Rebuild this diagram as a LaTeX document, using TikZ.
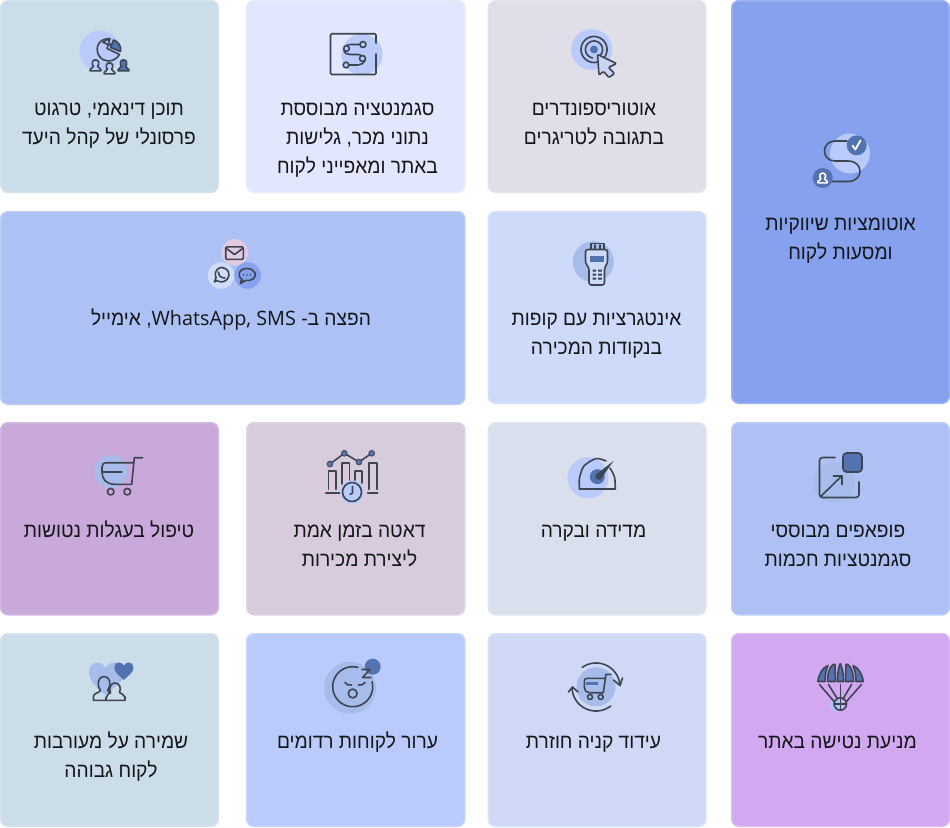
\documentclass[tikz,border=0pt]{standalone}
\usepackage{fontspec}
\setmainfont[Script=Hebrew,FakeStretch=0.935]{Liberation Sans}
\newfontfamily\latinface{Open Sans}
\TeXXeTstate=1
\definecolor{ink}{HTML}{3E4552}
\definecolor{deep}{HTML}{5272B0}
\definecolor{halo}{HTML}{BACBFB}
\definecolor{halob}{HTML}{A7BCEB}
\definecolor{pinkc}{HTML}{E0CBE3}
\definecolor{palec}{HTML}{CFDDF9}
\definecolor{ca}{HTML}{CCDDEA}\definecolor{cb}{HTML}{E2E7FD}\definecolor{cc}{HTML}{DFDEE9}
\definecolor{cd}{HTML}{86A1EE}\definecolor{ce}{HTML}{AEC1F5}\definecolor{cf}{HTML}{CDDAF9}
\definecolor{cg}{HTML}{C8A9DA}\definecolor{ch}{HTML}{D8CBDD}\definecolor{ci}{HTML}{D9DFEC}
\definecolor{cj}{HTML}{AFC1F4}\definecolor{ck}{HTML}{BACBFB}\definecolor{cl}{HTML}{CFD8F4}
\definecolor{cm}{HTML}{D2A9F0}
\tikzset{
  ln/.style={draw=ink,line width=1.6pt,line cap=round,line join=round},
  lab/.style={anchor=north,align=center,inner sep=0pt,text=black!70!ink,font=\fontsize{20.5}{29}\selectfont},
  cardbox/.style={rounded corners=7pt,line width=1.5pt}
}
\newcommand{\card}[5]{\path[cardbox,draw=#5!82!white,fill=#5] (#1+0.75,#2+0.75) rectangle (#3-0.75,#4-0.75);}
\newcommand{\rl}[1]{\beginR #1\endR}
\newcommand{\lab}[4]{\node[lab] (#1) at (#2,#3-20.3) {\strut #4};}
\newcommand{\person}[5]{\begin{scope}[shift={(#1,#2)},scale=#3]
  \draw[ln,fill=#4,draw=#5] (-6.5,6) -- (6.5,6) -- (6.5,4.2) .. controls (6.2,2.5) and (2.5,2) .. (2.5,0.5) .. controls (5,-2.5) and (4.5,-7.5) .. (0,-7.5) .. controls (-4.5,-7.5) and (-5,-2.5) .. (-2.5,0.5) .. controls (-2.5,2) and (-6.2,2.5) .. (-6.5,4.2) -- cycle;
\end{scope}}
\newcommand{\arcpx}[5]{plot[domain=#4:#5,samples=40,smooth] ({#1+#3*cos(\x)},{#2+#3*sin(\x)})}
\begin{document}
\begin{tikzpicture}[x=1pt,y=-1pt]
\useasboundingbox (0,0) rectangle (950,827);
\fill[white] (0,0) rectangle (950,827);
% cards
\card{0}{0}{219}{193}{ca}
\card{246}{0}{465.5}{193}{cb}
\card{487.5}{0}{706.5}{193}{cc}
\card{731}{0}{950}{404}{cd}
\card{0}{211}{465.5}{405}{ce}
\card{487.5}{211}{706.5}{404}{cf}
\card{0}{422}{219}{615.5}{cg}
\card{246}{422}{465.5}{615.5}{ch}
\card{487.5}{422}{706.5}{615.5}{ci}
\card{731}{422}{950}{615.5}{cj}
\card{0}{633}{219}{827}{ca}
\card{246}{633}{465.5}{827}{ck}
\card{487.5}{633}{706.5}{827}{cl}
\card{731}{633}{950}{827}{cm}
% labels
\lab{t1}{109}{115}{\rl{תוכן דינאמי, טרגוט}\\\rl{פרסונלי של קהל היעד}}
\lab{t2}{357.5}{115}{\rl{סגמנטציה מבוססת}\\\rl{נתוני מכר, גלישות}\\\rl{באתר ומאפייני לקוח}}
\lab{t3}{594}{115}{\rl{אוטוריספונדרים}\\\rl{בתגובה לטריגרים}}
\lab{t4}{840.5}{230}{\rl{אוטומציות שיווקיות}\\\rl{ומסעות לקוח}}
\lab{t5}{231}{325}{\rl{הפצה ב- \beginL{\latinface\fontsize{19.8}{29}\selectfont WhatsApp, SMS}\endL, אימייל}}
\lab{t6}{596.5}{325}{\rl{אינטגרציות עם קופות}\\\rl{בנקודות המכירה}}
\lab{t7}{109}{537}{\rl{טיפול בעגלות נטושות}}
\lab{t8}{359.5}{537}{\rl{דאטה בזמן אמת}\\\rl{ליצירת מכירות}}
\lab{t9}{593.5}{537}{\rl{מדידה ובקרה}}
\lab{t10}{838}{537}{\rl{פופאפים מבוססי}\\\rl{סגמנטציות חכמות}}
\lab{t11}{111}{748}{\rl{שמירה על מעורבות}\\\rl{לקוח גבוהה}}
\lab{t12}{357.5}{748}{\rl{ערור לקוחות רדומים}}
\lab{t13}{593.5}{748}{\rl{עידוד קניה חוזרת}}
\lab{t14}{837.5}{748}{\rl{מניעת נטישה באתר}}
% icon: pie + people
\fill[halo] (100,51) circle (20.5);
\draw[ln] (110,38.7) .. controls (106,38.3) and (100,40) .. (98,45) .. controls (95,53) and (101,61) .. (108,61) .. controls (113,61) and (117,58.5) .. (119.5,54.5) -- (107,48.5) -- cycle;
\draw[ln,fill=halo] (103,42.5) -- (108,38.7) -- (110,45) -- cycle;
\draw[ln,fill=deep] (113.5,40) .. controls (118,41) and (122,47) .. (120.5,51.5) -- (110.5,47.5) -- cycle;
\person{95.5}{66}{0.82}{none}{ink}
\person{109.5}{69}{0.82}{none}{ink}
\person{123.5}{66}{0.82}{deep}{ink}
% icon: segment box
\fill[halo] (362,54.5) circle (20.5);
\draw[ln,rounded corners=1.2pt] (376,43) -- (376,33.7) -- (330.5,33.7) -- (330.5,74.5) -- (376,74.5) -- (376,54);
\draw[ln] (360,44.5) -- (351,44.5) .. controls (348.5,44.5) and (347.5,45) .. (347,45.5);
\draw[ln] (344,50) .. controls (344.5,53.5) and (347,54.5) .. (350,54.5) -- (358,54.5) .. controls (359.5,54.5) and (360.5,55) .. (361,55.5);
\draw[ln] (365,60.5) .. controls (364,63) and (361,65) .. (358,65) -- (349,65);
\draw[ln] (363,44.5) circle (3);
\draw[ln] (346.5,48.5) circle (2.8);
\draw[ln] (362.5,58.5) circle (3);
\draw[ln] (346,65) circle (2.8);
% icon: target + cursor
\fill[halo] (591.7,49.5) circle (20.5);
\draw[ln] \arcpx{594}{49.5}{13}{-10}{205};
\draw[ln] \arcpx{594}{49.5}{13}{205}{350};
\draw[ln] \arcpx{594}{49.5}{8.5}{-20}{40};
\draw[ln] \arcpx{594}{49.5}{8.5}{100}{340};
\fill[deep] (594,49.5) circle (4);
\draw[ln,fill=halo!55!cc,rounded corners=1pt] (597.5,54.5) -- (616.5,63.5) -- (608.5,67.5) -- (614.5,73.5) -- (609,77.5) -- (603.5,71.5) -- (599,75) -- cycle;
% icon: automation path
\fill[halo] (850,153.5) circle (20);
\draw[ln] (847,141) -- (835,141) .. controls (821,141) and (821,161) .. (835,161) -- (848,161) .. controls (864,161) and (864,181.5) .. (848,181.5) -- (830,181.5);
\fill[deep] (856.7,145.3) circle (10);
\draw[white,line width=1.8pt,line cap=round,line join=round] (852.5,145.5) -- (855.3,149.5) -- (860.5,140.5);
\fill[deep] (822.7,178) circle (10);
\person{822.7}{178.5}{0.72}{none}{white}
% icon: channels
\fill[pinkc] (234.7,252.3) circle (13.3);
\fill[palec] (221,275.5) circle (13.3);
\fill[cd] (247.7,275.5) circle (13.3);
\draw[ln,rounded corners=1.2pt] (225.7,246.8) rectangle (243.3,259.4);
\draw[ln] (226.5,248.5) -- (234.5,254.5) -- (242.5,248.5);
\draw[ln] (214.5,282) -- (216,277.5) .. controls (213,270) and (220,267) .. (222,267.5) .. controls (228,268) and (231,274) .. (227.5,279) .. controls (224.5,282.5) and (220,282.5) .. (216.7,280.5) -- cycle;
\draw[ln] (218.5,272) .. controls (218.5,276) and (221,278) .. (225,278);
\draw[ln] (241,281) -- (242.5,280) .. controls (236,275) and (239,268.5) .. (247,268.5) .. controls (255,268.5) and (258,276) .. (253,279) .. controls (251,280.5) and (248,280.5) .. (245.5,280.5) -- (240.5,283.5) -- cycle;
\fill[ink] (243.5,275) circle (0.8) (247,275) circle (0.8) (250.5,275) circle (0.8);
% icon: POS
\fill[halob] (593.3,261.7) circle (20.5);
\draw[ln] (591,249) -- (591,243.5) -- (604,243.5) -- (604,249);
\draw[ln] (595,249) -- (595,245) (600,249) -- (600,245);
\draw[ln,fill=cf,rounded corners=2.5pt] (585.5,249.5) -- (607.5,249.5) -- (607.5,263.5) -- (604.5,267.5) -- (604.5,285) -- (589,285) -- (589,267.5) -- (585.5,263.5) -- cycle;
\fill[deep] (589.5,256) rectangle (604,262);
\foreach \yy in {269.5,273.5,277.5}{\fill[ink] (592.6,\yy) rectangle (596,\yy+2) (598.2,\yy) rectangle (601.8,\yy+2);}
% icon: cart
\fill[halob] (110.7,471.7) circle (16.5);
\draw[ln] (142.5,457.7) -- (134.3,457.7) -- (131.7,484.3) -- (115,484.3) .. controls (106,484.3) and (102,479) .. (102,472) -- (102,467) .. controls (102,464) and (104,462.7) .. (106,462.7) -- (133,462.7);
\draw[ln] (102.7,471.7) -- (121.7,471.7);
\draw[ln] (110.7,491.7) circle (3.3) (127.3,491.7) circle (3.3);
% icon: realtime data
\draw[ln] (328.3,489.3) -- (328.3,471) -- (336,471) -- (336,489.3);
\draw[ln] (341.7,484) -- (341.7,462.7) -- (349.3,462.7) -- (349.3,484);
\draw[ln] (354.7,483) -- (354.7,471) -- (361.7,471) -- (361.7,483);
\draw[ln] (369,489.3) -- (369,462.7) -- (376.7,462.7) -- (376.7,489.3);
\draw[ln] (325.7,492.7) -- (340,492.7) (367.7,492.7) -- (377.7,492.7);
\draw[ln] (330,464) -- (344.3,453.3) -- (359,462) -- (371.7,453.3);
\foreach \px/\py in {330/464,344.3/453.3,359/462,371.7/453.3}{\draw[ink,line width=0.8pt,fill=deep] (\px,\py) circle (2.9);}
\fill[halo] (352,492) circle (12);
\draw[ln] (352,492) circle (9.5);
\draw[ln] (352.5,486.5) -- (352.5,493) -- (350,494.5);
% icon: gauge
\fill[halo] (588,477.7) circle (20.5);
\draw[ln] (579.5,488.7) -- (615.3,488.7);
\draw[ln] plot[smooth] coordinates {(579.5,488.7) (579.5,478) (584,466) (596,458.6) (606,461)};
\draw[ln] plot[smooth] coordinates {(610,468) (614.5,477) (615.3,488.7)};
\fill[deep] (597.3,476.7) circle (7.5);
\fill[ink] (613.5,461) -- (600.5,479.5) .. controls (597,481) and (594,477) .. (596,474.5) -- cycle;
% icon: popup
\fill[halob] (834.3,482.3) circle (20.5);
\draw[ln,rounded corners=3pt] (835,457.5) -- (819.5,457.5) -- (819.5,497.5) -- (859,497.5) -- (859,482);
\draw[ln,fill=deep,rounded corners=3.5pt] (843,453) rectangle (862,472);
\draw[ln] (820.7,496.5) -- (841.7,476);
\draw[ln] (833.3,476) -- (841.7,476) -- (841.7,484.5);
% icon: sleep
\fill[halob] (350,687.7) circle (26);
\fill[deep] (372.7,666.7) circle (8);
\draw[ln] \arcpx{352.7}{686.7}{20}{-15}{285};
\draw[ln] (362,669.5) -- (370,669.5) -- (362.5,677.5) -- (371,677.5);
\draw[ln] (345,682.5) .. controls (346,684.5) and (349,685.5) .. (351.5,685);
\draw[ln] (365,682.5) .. controls (364,684.5) and (361,685.5) .. (358.5,685);
\draw[ln] (352.7,693.5) circle (4.4);
% icon: repeat cart
\fill[halob] (596,686.7) circle (19.5);
\draw[ln] (611,674.3) -- (606,674.3) -- (603.3,692.7) -- (589,692.7) .. controls (586,692.7) and (584.3,690) .. (584.3,687) -- (584.3,681) .. controls (584.3,679.5) and (585.5,678.3) .. (587,678.3) -- (605,678.3);
\draw[deep,line width=2.4pt] (586,683.5) -- (598.3,683.5);
\draw[ln] (590,697) circle (2.5) (600.7,697) circle (2.5);
\draw[ln] \arcpx{596}{687}{24}{-125}{-5};
\draw[ln] (613.5,680) -- (620,685.5) -- (622.5,678);
\draw[ln] \arcpx{596}{687}{24}{52}{178};
\draw[ln] (568.5,692) -- (572.5,687) -- (578,692);
% icon: parachute
\fill[halo!80!cd] (836.5,705) circle (6.5);
\draw[ln,fill=deep] (817.8,681.5) .. controls (819,674) and (822,668) .. (828,665.5) .. controls (826,670) and (825,675) .. (825,681.5) -- cycle;
\draw[ln,fill=deep] (827.5,681.5) .. controls (827.5,674) and (829,668) .. (833,664.5) -- (835,664.5) .. controls (835,670) and (835.5,675) .. (835.5,681.5) -- cycle;
\draw[ln,fill=deep] (837.5,681.5) .. controls (837.5,673) and (838.5,667) .. (840.3,663.5) .. controls (842.1,667) and (843.5,673) .. (843.5,681.5) -- cycle;
\draw[ln,fill=deep] (845.5,681.5) .. controls (845.5,675) and (846,670) .. (846,664.5) -- (848,664.5) .. controls (852,668) and (853.5,674) .. (853.5,681.5) -- cycle;
\draw[ln,fill=deep] (856,681.5) .. controls (856,675) and (855,670) .. (853,665.5) .. controls (859,668) and (862,674) .. (863.3,681.5) -- cycle;
\draw[ln] (819.5,684.5) -- (834.5,702);
\draw[ln] (828.5,684.5) -- (837.5,699);
\draw[ln] (840.3,684.5) -- (840.3,697.5);
\draw[ln] (851.5,684.5) -- (843,699);
\draw[ln] (861.5,684.5) -- (846,702);
\draw[ln] (840.3,704) circle (6.2);
\draw[ln] (834,704) -- (846.5,704) (840.3,698) -- (840.3,710);
% icon: hearts & people
\fill[halob] (105,695) .. controls (97,688) and (89,681) .. (89,672) .. controls (89,662) and (101,659) .. (105.5,668) .. controls (110,659) and (125,661) .. (125,672) .. controls (125,681) and (113,688) .. (105,695) -- cycle;
\fill[deep] (123.8,680) .. controls (120,676) and (114.3,673) .. (114.3,667.5) .. controls (114.3,661.5) and (121.5,661) .. (123.8,665.5) .. controls (126,661) and (133.5,661.5) .. (133.5,667.5) .. controls (133.5,673) and (127.5,676) .. (123.8,680) -- cycle;
\draw[ln] (93.5,700) -- (93.5,696) .. controls (94,693) and (100,692.5) .. (100.5,690.5) .. controls (96,684) and (98.5,676.5) .. (104,676.5) .. controls (110,676.5) and (112,684) .. (107.5,690.5) .. controls (108,692) and (110,692.5) .. (110.5,693);
\draw[ln] (93.5,700.3) -- (125,700.3) -- (125,697) .. controls (124.5,694.5) and (121,694) .. (119.5,692.5) .. controls (121.5,688) and (119.5,683) .. (115,683) .. controls (110.5,683) and (108.5,688) .. (110.5,692.5) .. controls (109,694) and (106,695) .. (106,698) -- (106,700);
\end{tikzpicture}
\end{document}
